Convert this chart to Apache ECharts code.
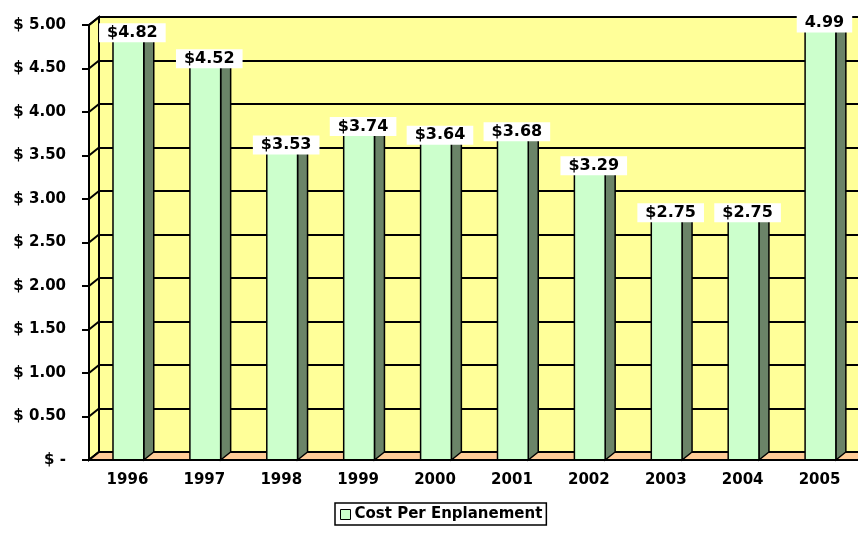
<!DOCTYPE html>
<html>
<head>
<meta charset="utf-8">
<script src="https://cdn.jsdelivr.net/npm/echarts@6/dist/echarts.min.js"></script>
<style>
html,body{margin:0;padding:0;background:#fff}
#chart{width:858px;height:552px}
</style>
</head>
<body>
<div id="chart"></div>
<script>
// 数据
var years = ['1996','1997','1998','1999','2000','2001','2002','2003','2004','2005'];
var costs = [4.82, 4.52, 3.53, 3.74, 3.64, 3.68, 3.29, 2.75, 2.75, 4.99];
var valueLabels = ['$4.82','$4.52','$3.53','$3.74','$3.64','$3.68','$3.29','$2.75','$2.75','4.99'];
var yTicks = [0, 0.5, 1, 1.5, 2, 2.5, 3, 3.5, 4, 4.5, 5];
var seriesName = 'Cost Per Enplanement';

// 3D 深度偏移
var DX = 10, DY = -8;
var FONT = '"DejaVu Sans", sans-serif';

var myChart = echarts.init(document.getElementById('chart'));

// 左墙 + 地板
function renderWalls(params, api) {
    var cs = params.coordSys;
    var y0 = api.coord([0, 0])[1];
    var y5 = api.coord([0, 5])[1];
    var xl = cs.x, xr = cs.x + cs.width;
    var children = [];
    children.push({
        type: 'polygon',
        shape: { points: [[xl, y0], [xl, y5], [xl + DX, y5 + DY], [xl + DX, y0 + DY]] },
        style: { fill: '#FFFF99', stroke: '#000', lineWidth: 2 }
    });
    for (var i = 0; i < yTicks.length; i++) {
        var y = api.coord([0, yTicks[i]])[1];
        children.push({
            type: 'line',
            shape: { x1: xl, y1: y, x2: xl + DX, y2: y + DY },
            style: { stroke: '#000', lineWidth: 2 }
        });
    }
    children.push({
        type: 'polygon',
        shape: { points: [[xl, y0], [xl + DX, y0 + DY], [xr + DX, y0 + DY], [xr, y0]] },
        style: { fill: '#FFCC99', stroke: '#000', lineWidth: 2 }
    });
    return { type: 'group', children: children };
}

// 柱子
function renderBar(params, api) {
    var cs = params.coordSys;
    var i = api.value(0);
    var top = api.coord([i, api.value(1)]);
    var base = api.coord([i, 0]);
    var band = api.size([1, 0])[0];
    var w = band * 0.40;
    var x0 = top[0] - band * 0.188;
    var x1 = x0 + w;
    var yt = top[1], yb = base[1];
    var ly = Math.max(yt - 8, cs.y - 2);
    return {
        type: 'group',
        children: [
            {
                type: 'polygon',
                shape: { points: [[x1, yt], [x1 + DX, yt + DY], [x1 + DX, yb + DY], [x1, yb]] },
                style: { fill: '#6B8468', stroke: '#000', lineWidth: 1.5 }
            },
            {
                type: 'polygon',
                shape: { points: [[x0, yt], [x0 + DX, yt + DY], [x1 + DX, yt + DY], [x1, yt]] },
                style: { fill: '#CCFFCC', stroke: '#000', lineWidth: 1.5 }
            },
            {
                type: 'rect',
                shape: { x: x0, y: yt, width: w, height: yb - yt },
                style: { fill: '#CCFFCC', stroke: '#000', lineWidth: 1.5 }
            },
            {
                type: 'text',
                z2: 10,
                style: {
                    text: valueLabels[i],
                    x: x0 + w / 2 + 4,
                    y: ly,
                    align: 'center',
                    verticalAlign: 'middle',
                    font: 'bold 16px ' + FONT,
                    fill: '#000',
                    backgroundColor: '#fff',
                    padding: [2, 8, 1, 8]
                }
            }
        ]
    };
}

var option = {
    animation: false,
    backgroundColor: '#fff',
    legend: {
        data: [{ name: seriesName, icon: 'rect', itemStyle: { color: '#CCFFCC', borderColor: '#000', borderWidth: 1 } }],
        left: 335,
        top: 503,
        padding: [4, 4, 3, 5],
        itemWidth: 10,
        itemHeight: 10,
        itemGap: 4,
        borderColor: '#000',
        borderWidth: 1.5,
        textStyle: { fontFamily: FONT, fontWeight: 'bold', fontSize: 15, color: '#000', padding: [0, 0, 0, -1] }
    },
    grid: [
        // 前平面
        { left: 89, top: 25, width: 769, height: 435 },
        // 后墙
        { left: 89 + DX, top: 25 + DY, width: 769, height: 435, show: true, backgroundColor: '#FFFF99', borderWidth: 0 }
    ],
    xAxis: [
        {
            type: 'category',
            gridIndex: 0,
            data: years,
            z: 5,
            axisLine: { lineStyle: { color: '#000', width: 2 } },
            axisTick: { length: 6, lineStyle: { color: '#000', width: 2 } },
            axisLabel: { margin: 13, color: '#000', fontFamily: FONT, fontWeight: 'bold', fontSize: 15 }
        },
        { type: 'category', gridIndex: 1, data: years, show: false }
    ],
    yAxis: [
        {
            type: 'value',
            gridIndex: 0,
            min: 0,
            max: 5,
            interval: 0.5,
            z: 5,
            axisLine: { show: true, lineStyle: { color: '#000', width: 2 } },
            axisTick: { show: true, length: 7, lineStyle: { color: '#000', width: 2 } },
            splitLine: { show: false },
            axisLabel: {
                margin: 23,
                color: '#000',
                fontFamily: FONT,
                fontWeight: 'bold',
                fontSize: 15,
                formatter: function (v) { return v === 0 ? '$ -' : '$ ' + v.toFixed(2); }
            }
        },
        {
            type: 'value',
            gridIndex: 1,
            min: 0,
            max: 5,
            interval: 0.5,
            axisLine: { show: true, lineStyle: { color: '#000', width: 2 } },
            axisTick: { show: false },
            axisLabel: { show: false },
            splitLine: { show: true, lineStyle: { color: '#000', width: 2 } }
        }
    ],
    series: [
        {
            name: 'walls',
            type: 'custom',
            xAxisIndex: 0,
            yAxisIndex: 0,
            z: 1,
            silent: true,
            renderItem: renderWalls,
            data: [[0, 0]]
        },
        {
            name: seriesName,
            type: 'custom',
            xAxisIndex: 0,
            yAxisIndex: 0,
            z: 3,
            itemStyle: { color: '#CCFFCC' },
            renderItem: renderBar,
            data: costs.map(function (v, i) { return [i, v]; })
        }
    ]
};

myChart.setOption(option);
</script>
</body>
</html>
